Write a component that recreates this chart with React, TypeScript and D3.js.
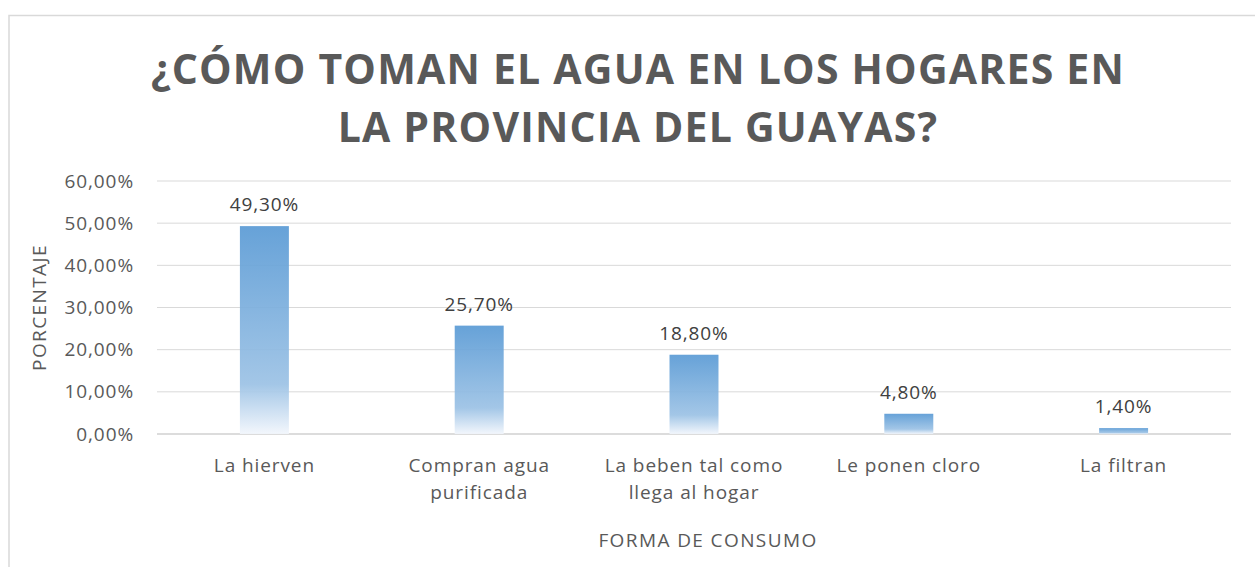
import React from 'react';
import * as d3 from 'd3';

// datos
const categorias = [
  ['La hierven'],
  ['Compran agua', 'purificada'],
  ['La beben tal como', 'llega al hogar'],
  ['Le ponen cloro'],
  ['La filtran'],
];
const porcentajes = [49.3, 25.7, 18.8, 4.8, 1.4];
const ticksY = [0, 10, 20, 30, 40, 50, 60];
const tituloLineas = ['¿CÓMO TOMAN EL AGUA EN LOS HOGARES EN', 'LA PROVINCIA DEL GUAYAS?'];

const fmt = (v: number) => v.toFixed(2).replace('.', ',') + '%';

export default function App() {
  const width = 1255;
  const height = 567;
  const plot = { left: 157, right: 1231, top: 181, bottom: 434 };
  const font = '"Open Sans", sans-serif';
  const gris = '#595959';

  const x = d3.scaleBand<number>()
    .domain(d3.range(categorias.length))
    .range([plot.left, plot.right])
    .padding(0);
  const y = d3.scaleLinear().domain([0, 60]).range([plot.bottom, plot.top]);
  const barW = x.bandwidth() * 0.228;

  return (
    <svg width={width} height={height} style={{ position: 'absolute', left: 0, top: 0 }}>
      <defs>
        <linearGradient id="barra" x1="0" y1="0" x2="0" y2="1">
          <stop offset="0" stopColor="#5b9bd5" />
          <stop offset="0.76" stopColor="#9cc2e5" />
          <stop offset="1" stopColor="#f2f6fc" />
        </linearGradient>
      </defs>
      <rect x={0} y={0} width={width} height={height} fill="#fff" />
      <path d={`M9,${height} V15.5 H${width}`} fill="none" stroke="#d9d9d9" strokeWidth={1.5} />

      {tituloLineas.map((t, i) => (
        <text key={i} x={638} y={84 + i * 58} textAnchor="middle" fontFamily={font}
          fontWeight="bold" fontSize={41} letterSpacing={1.2} fill={gris}>{t}</text>
      ))}

      {ticksY.map(t => (
        <g key={t}>
          <line x1={plot.left} x2={plot.right} y1={y(t)} y2={y(t)}
            stroke={t === 0 ? '#d0d0d0' : '#d9d9d9'} strokeWidth={t === 0 ? 1.5 : 1} />
          <text x={134} y={y(t)} dy="0.35em" textAnchor="end" fontFamily={font}
            fontSize={19} letterSpacing={0.9} fill={gris}>{fmt(t)}</text>
        </g>
      ))}

      {porcentajes.map((v, i) => {
        const cx = x(i)! + x.bandwidth() / 2;
        return (
          <g key={i}>
            <rect x={cx - barW / 2} y={y(v)} width={barW} height={y(0) - y(v)} fill="url(#barra)" fillOpacity={0.93} />
            <text x={cx} y={y(v) - 15} textAnchor="middle" fontFamily={font}
              fontSize={19} letterSpacing={0.9} fill="#404040">{fmt(v)}</text>
            {categorias[i].map((l, j) => (
              <text key={j} x={cx} y={472 + j * 27} textAnchor="middle" fontFamily={font}
                fontSize={19} letterSpacing={0.9} fill={gris}>{l}</text>
            ))}
          </g>
        );
      })}

      <text transform={`translate(46,${(plot.top + plot.bottom) / 2}) rotate(-90)`} textAnchor="middle"
        fontFamily={font} fontSize={19} letterSpacing={1.4} fill={gris}>PORCENTAJE</text>
      <text x={708} y={547} textAnchor="middle" fontFamily={font} fontSize={19} letterSpacing={1.4} fill={gris}>FORMA DE CONSUMO</text>
    </svg>
  );
}
